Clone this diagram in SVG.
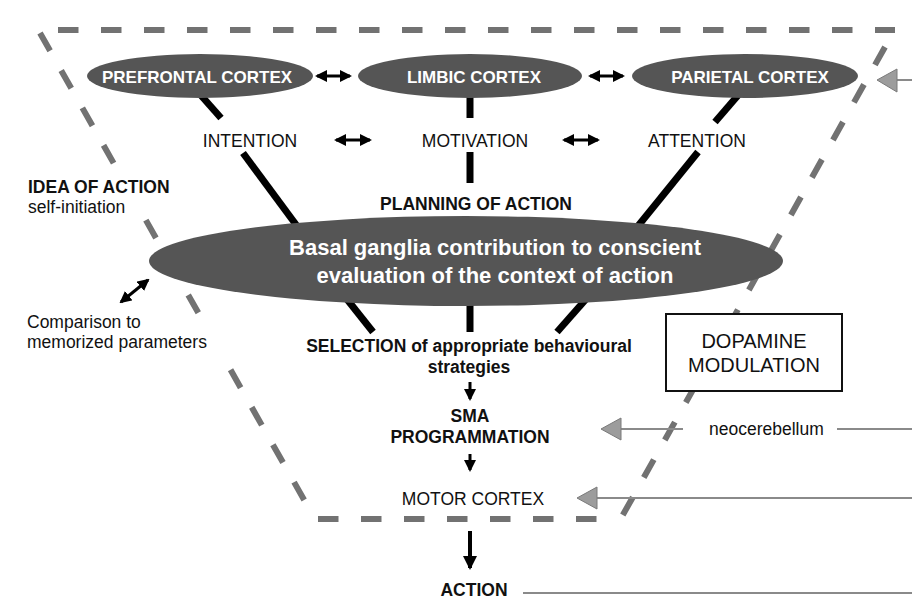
<svg xmlns="http://www.w3.org/2000/svg" width="912" height="600" viewBox="0 0 912 600">
<defs>
<style>
text{font-family:"Liberation Sans",Arial,sans-serif;fill:#111}
.cx{font-size:17px;font-weight:bold;fill:#fff;text-anchor:middle}
.bg{font-size:22px;font-weight:bold;fill:#fff;text-anchor:middle}
.n{font-size:17.5px}
.b{font-size:17.5px;font-weight:bold}
.m{text-anchor:middle}
.dash{stroke:#727272;stroke-width:6;stroke-dasharray:20.5 22.5;fill:none}
.bar{stroke:#000;stroke-width:7;fill:none}
.dbl{stroke:#000;stroke-width:3;marker-start:url(#ah);marker-end:url(#ah)}
.gl{stroke:#8a8a8a;stroke-width:2;fill:none}
.gh{fill:#9c9c9c;stroke:#7a7a7a;stroke-width:1}
.blob{fill:#555}
.ko{fill:#fff}
</style>
<marker id="ah" viewBox="0 0 12 12" refX="10" refY="6" markerWidth="12" markerHeight="12" markerUnits="userSpaceOnUse" orient="auto-start-reverse">
<path d="M0,0 L12,6 L0,12 z" fill="#000"/>
</marker>
<marker id="dn" viewBox="0 0 12 12" refX="10" refY="6" markerWidth="12" markerHeight="12" markerUnits="userSpaceOnUse" orient="auto">
<path d="M0,0 L12,6 L0,12 z" fill="#000"/>
</marker>
<marker id="dn2" viewBox="0 0 14 14" refX="12" refY="7" markerWidth="14" markerHeight="14" markerUnits="userSpaceOnUse" orient="auto">
<path d="M0,0 L14,7 L0,14 z" fill="#000"/>
</marker>
</defs>
<rect width="912" height="600" fill="#fff"/>
<g id="frame">
<line class="dash" x1="58" y1="30" x2="895" y2="30"/>
<line class="dash" x1="40" y1="33" x2="307" y2="505"/>
<line class="dash" x1="885" y1="47" x2="620" y2="520"/>
<line class="dash" x1="318" y1="519" x2="600" y2="519"/>
</g>
<g id="connectors">
<line class="bar" x1="198" y1="92" x2="221" y2="118"/>
<line class="bar" x1="243" y1="153" x2="297" y2="226"/>
<line class="bar" x1="470" y1="96" x2="470" y2="118"/>
<line class="bar" x1="470" y1="152" x2="470" y2="183"/>
<line class="bar" x1="740" y1="93" x2="715" y2="122"/>
<line class="bar" x1="698" y1="152" x2="638" y2="226"/>
<line class="bar" x1="346" y1="298" x2="373" y2="332"/>
<line class="bar" x1="470" y1="300" x2="470" y2="332"/>
<line class="bar" x1="587" y1="298" x2="557" y2="332"/>
<line class="dbl" x1="317" y1="76" x2="350" y2="76"/>
<line class="dbl" x1="590" y1="76" x2="623" y2="76"/>
<line class="dbl" x1="336" y1="140" x2="370" y2="140"/>
<line class="dbl" x1="564" y1="140" x2="598" y2="140"/>
<line class="dbl" x1="121" y1="302" x2="148" y2="280"/>
<line stroke="#000" stroke-width="3" x1="470" y1="382" x2="470" y2="399" marker-end="url(#dn)"/>
<line stroke="#000" stroke-width="3" x1="470" y1="454" x2="470" y2="470" marker-end="url(#dn)"/>
<line stroke="#000" stroke-width="4" x1="470" y1="531" x2="470" y2="568" marker-end="url(#dn2)"/>
<line class="gl" x1="897" y1="80" x2="912" y2="80"/>
<path class="gh" d="M877,80 L897,69 L897,92 z"/>
<line class="gl" x1="621" y1="429" x2="683" y2="429"/>
<line class="gl" x1="837" y1="429" x2="912" y2="429"/>
<path class="gh" d="M601,429 L621,418 L621,440 z"/>
<line class="gl" x1="596" y1="498" x2="912" y2="498"/>
<path class="gh" d="M577,498 L597,487 L597,509 z"/>
<line class="gl" x1="523" y1="593" x2="912" y2="593"/>
</g>
<g id="prefrontal">
<ellipse class="blob" cx="200" cy="76" rx="113" ry="22"/>
<text class="cx" x="197" y="83">PREFRONTAL CORTEX</text>
</g>
<g id="limbic">
<ellipse class="blob" cx="470" cy="76" rx="112" ry="22"/>
<text class="cx" x="474" y="83">LIMBIC CORTEX</text>
</g>
<g id="parietal">
<ellipse class="blob" cx="745" cy="76" rx="113" ry="22"/>
<text class="cx" x="750" y="83">PARIETAL CORTEX</text>
</g>
<g id="intention"><text class="n m" x="250" y="147">INTENTION</text></g>
<g id="motivation"><text class="n m" x="475" y="147">MOTIVATION</text></g>
<g id="attention"><text class="n m" x="697" y="147">ATTENTION</text></g>
<g id="planning"><text class="b m" x="476" y="210">PLANNING OF ACTION</text></g>
<g id="idea">
<rect class="ko" x="26" y="176" width="150" height="30"/>
<text class="b" x="28" y="193">IDEA OF ACTION</text>
<text class="n" x="28" y="213">self-initiation</text>
</g>
<g id="basal">
<ellipse class="blob" cx="466" cy="261" rx="317" ry="45"/>
<text class="bg" x="495" y="255">Basal ganglia contribution to conscient</text>
<text class="bg" x="495" y="283">evaluation of the context of action</text>
</g>
<g id="comparison">
<rect class="ko" x="25" y="327" width="205" height="30"/>
<text class="n" x="27" y="328">Comparison to</text>
<text class="n" x="27" y="348">memorized parameters</text>
</g>
<g id="selection">
<text class="b m" x="469" y="352">SELECTION of appropriate behavioural</text>
<text class="b m" x="469" y="373">strategies</text>
</g>
<g id="dopamine">
<rect x="666" y="314" width="176" height="77" fill="#fff" stroke="#111" stroke-width="2"/>
<text class="m" x="754" y="348" font-size="20">DOPAMINE</text>
<text class="m" x="754" y="372" font-size="20">MODULATION</text>
</g>
<g id="sma">
<text class="b m" x="470" y="422">SMA</text>
<text class="b m" x="470" y="443">PROGRAMMATION</text>
</g>
<g id="neocerebellum"><text class="n" x="709" y="435">neocerebellum</text></g>
<g id="motor"><text class="n m" x="473" y="505">MOTOR CORTEX</text></g>
<g id="action"><text class="b m" x="474" y="596">ACTION</text></g>
</svg>
